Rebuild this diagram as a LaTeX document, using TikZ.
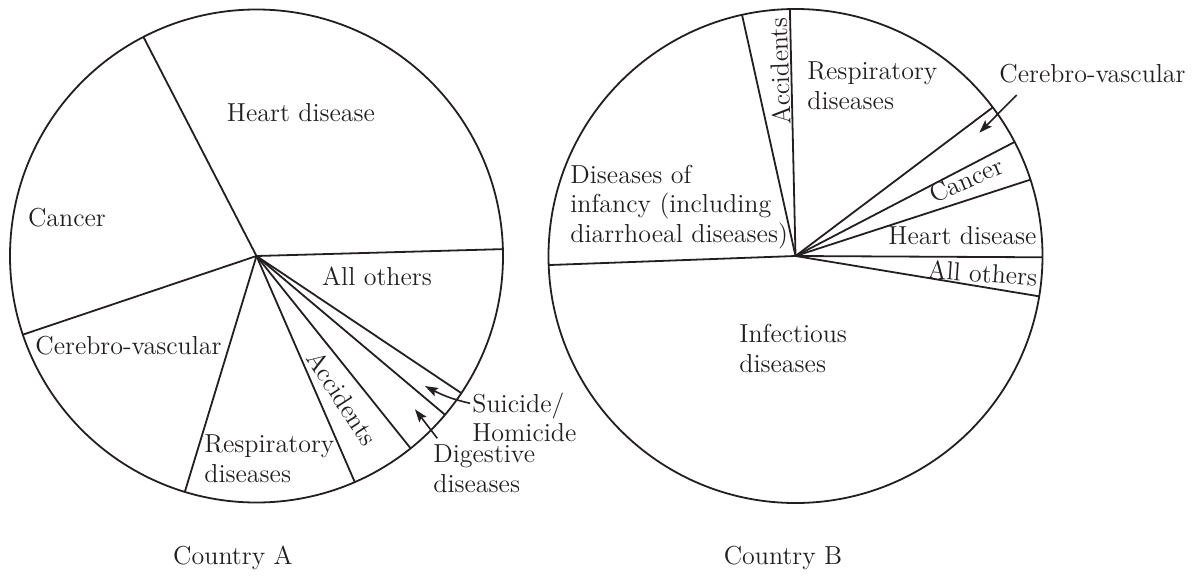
\documentclass[tikz,border=0pt]{standalone}
\usetikzlibrary{arrows.meta,bending}
\definecolor{ink}{HTML}{231F20}
\begin{document}
\begin{tikzpicture}[x=0.5pt,y=0.5pt,
  pieline/.style={draw=ink, line width=0.9pt},
  lbl/.style={inner sep=0pt, text=ink, font=\fontsize{13}{14.8}\selectfont},
  multi/.style={lbl, align=left, anchor=west},
  arr/.style={draw=ink, line width=0.8pt, -{Stealth[length=6.5pt,width=4.5pt,inset=1.2pt,bend]}}]
\useasboundingbox (0,0) rectangle (1200,575);

% ---------- Country A ----------
\coordinate (A) at (256.5,319);
\def\rA{246.5}
\draw[pieline] (A) circle[radius=\rA];
\foreach \ang in {117.3,1.6,198.6,253.1,293.5,308.7,319.9,326.2}
  \draw[pieline] (A) -- ++(\ang:\rA);

\node[lbl] (hdA) at (301,462) {Heart disease};
\node[lbl] (caA) at (67,357) {Cancer};
\node[lbl] (aoA) at (377,299) {All others};
\node[lbl] (cvA) at (128.5,229) {Cerebro-vascular};
\node[multi] (rdA) at (204,116) {Respiratory\\diseases};
\node[lbl, rotate=-57] (acA) at (342.5,177) {Accidents};
\node[multi] (shA) at (472,157.5) {Suicide/\\Homicide};
\node[multi] (dgA) at (433,106) {Digestive\\diseases};
\node[lbl] (ctA) at (233,17) {Country A};

\coordinate (shTail) at (470,171.7);
\coordinate (shTip) at (425,189);
\draw[arr] (shTail) to[bend left=8] (shTip);
\coordinate (dgTail) at (437.3,136.7);
\coordinate (dgTip) at (415,165.7);
\draw[arr] (dgTail) -- (dgTip);

% ---------- Country B ----------
\coordinate (B) at (795.5,319);
\def\rB{247}
\draw[pieline] (B) circle[radius=\rB];
\foreach \ang in {102.5,91.3,37.0,27.5,18.0,-0.3,-9.4,182.1}
  \draw[pieline] (B) -- ++(\ang:\rB);

\node[lbl, rotate=92] (acB) at (779.5,504) {Accidents};
\node[multi] (rdB) at (807,489) {Respiratory\\diseases};
\node[lbl] (cvB) at (1092.5,501.7) {Cerebro-vascular};
\node[lbl, rotate=24] (caB) at (966,395) {Cancer};
\node[lbl] (hdB) at (962.5,339) {Heart disease};
\node[lbl, rotate=-4] (aoB) at (982.5,302) {All others};
\node[multi] (diB) at (570,368) {Diseases of\\infancy (including\\diarrhoeal diseases)};
\node[multi] (inB) at (739,226.7) {Infectious\\diseases};
\node[lbl] (ctB) at (783,17) {Country B};

\coordinate (cvTail) at (1016.7,480);
\coordinate (cvTip) at (979.3,442.3);
\draw[arr] (cvTail) -- (cvTip);
\end{tikzpicture}
\end{document}
